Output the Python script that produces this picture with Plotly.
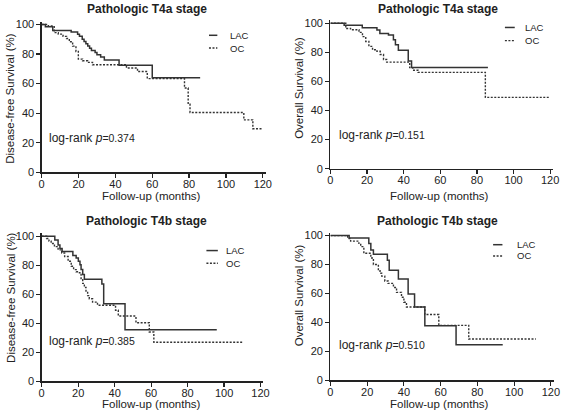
import plotly.graph_objects as go

W, H = 567, 419
FONT = "Liberation Sans, Arial, sans-serif"
INK = "#222222"

# ---------------- data ----------------
x_ticks = [0, 20, 40, 60, 80, 100, 120]
y_ticks = [0, 20, 40, 60, 80, 100]
series_names = ["LAC", "OC"]
panel_titles = ["Pathologic T4a stage", "Pathologic T4a stage",
                "Pathologic T4b stage", "Pathologic T4b stage"]
y_titles = ["Disease-free Survival (%)", "Overall Survival (%)",
            "Disease-free Survival (%)", "Overall Survival (%)"]
x_title = "Follow-up (months)"
p_values = ["0.374", "0.151", "0.385", "0.510"]

# T4a disease-free survival
t4a_dfs_lac_t = [0, 2, 6, 16, 19.5, 20.5, 22, 23, 24, 25, 26, 27, 29, 30, 32, 34, 42, 60, 86]
t4a_dfs_lac_s = [100, 98.5, 96, 95, 93.5, 92, 90, 88.5, 87, 85.5, 84, 82.5, 81, 79.5, 78, 76, 72.5, 64, 64]
t4a_dfs_oc_t = [0, 3.6, 6.8, 9, 11.6, 13.5, 15, 16.8, 18.6, 19.9, 22.2, 24.9, 27.6, 46, 52, 57.3,
                77.5, 79.5, 80.5, 109.7, 114.6, 120]
t4a_dfs_oc_s = [100, 99, 94.5, 93.5, 92, 90.5, 88.3, 85.4, 81.7, 76.6, 75.5, 74.4, 72.8, 70.6, 68.2, 63.4,
                57, 46, 40.5, 35.5, 29.5, 29.5]

# T4a overall survival
t4a_os_lac_t = [0, 7.5, 17.4, 25.4, 27, 31.7, 34.4, 35.5, 37.1, 42.5, 44.3, 86]
t4a_os_lac_s = [100, 98.7, 96.9, 95.3, 93, 91.9, 88.6, 85.2, 81.4, 74, 69.5, 69.5]
t4a_os_oc_t = [0, 8.4, 11, 15.6, 17.5, 19.3, 21, 23, 25.4, 27.2, 29, 30.7, 43.3, 45, 47.8, 84.6, 120]
t4a_os_oc_s = [100, 96.4, 95.5, 93.7, 90.8, 87.5, 84.1, 81.8, 80.7, 78.5, 75.1, 73.3, 69.5, 67.7, 66.2, 49, 49]

# T4b disease-free survival
t4b_dfs_lac_t = [0, 7.2, 9, 10, 11.2, 17.1, 18.9, 20.1, 21, 21.6, 22.5, 23.4, 33, 34, 45.7, 96]
t4b_dfs_lac_s = [100, 97.3, 93.9, 91.6, 89.4, 86.7, 84.9, 82.7, 80.4, 77, 73.7, 70.4, 67, 53.5, 35.5, 35.5]
t4b_dfs_oc_t = [0, 2.7, 4, 5.2, 7, 9, 11, 12.6, 14.5, 16.2, 17.5, 18.9, 20.7, 21.6, 22.5, 23.4, 24.3,
                25.2, 26.1, 27.9, 30.6, 40.5, 42, 51.7, 59, 61.5, 110.5]
t4b_dfs_oc_s = [100, 98.4, 96.6, 95, 92.8, 90.6, 88.4, 86, 82.7, 79.3, 77, 75.5, 74.8, 70, 67.5, 64.7, 61.3,
                59.1, 56.9, 54.6, 52.4, 49, 45, 40.4, 34, 27, 27]

# T4b overall survival
t4b_os_lac_t = [0, 10.2, 20.9, 22, 23.4, 31, 32, 37, 42.3, 45.8, 51.4, 68.4, 93.8]
t4b_os_lac_s = [100, 98.4, 94.6, 90.1, 87.2, 83, 76, 70, 59.7, 50.7, 37.7, 24.6, 24.6]
t4b_os_oc_t = [0, 9.4, 11, 15.5, 16.5, 18.2, 22, 23.4, 26.1, 27, 27.9, 29.6, 31.4, 34.3, 36, 38.7, 40,
               41.4, 51.4, 59, 75.3, 111.8]
t4b_os_oc_s = [100, 98, 96.2, 94.6, 92.4, 87.8, 84.5, 80, 76.6, 74, 72, 68.7, 67, 64.2, 60.8, 57.4, 54,
               50.7, 45.5, 38, 28.6, 28.6]

curves = [
    ((t4a_dfs_lac_t, t4a_dfs_lac_s), (t4a_dfs_oc_t, t4a_dfs_oc_s)),
    ((t4a_os_lac_t, t4a_os_lac_s), (t4a_os_oc_t, t4a_os_oc_s)),
    ((t4b_dfs_lac_t, t4b_dfs_lac_s), (t4b_dfs_oc_t, t4b_dfs_oc_s)),
    ((t4b_os_lac_t, t4b_os_lac_s), (t4b_os_oc_t, t4b_os_oc_s)),
]

# ---------------- layout geometry (pixels) ----------------
# (x of t=0, x of t=120, y of 0 %, y of 100 %)
panels_px = [
    (39.3, 264.0, 173.0, 22.0),
    (332.7, 556.0, 169.3, 20.7),
    (39.3, 261.7, 386.7, 238.3),
    (332.7, 556.7, 385.7, 237.7),
]
XMAX, YMAX = 121.5, 102.0


def px(x):
    return x / W


def py(y):
    return 1 - y / H


fig = go.Figure()
layout = dict(
    width=W, height=H, margin=dict(l=0, r=0, t=0, b=0),
    paper_bgcolor="white", plot_bgcolor="white", showlegend=False,
    font=dict(family=FONT, color=INK),
)
annotations = []
shapes = []

title_pos = [(146, 6.5), (442, 6.5), (146, 223), (442, 223)]
xtitle_cx = [150.5, 444, 150.5, 444]
xtitle_y = [197, 197, 410, 410]
ytitle_x = [7.5, 300.5, 7.5, 300.5]
ytitle_cy = [97.5, 87, 301, 299]
logrank_pos = [(44.3, 137.7), (339.3, 135), (44.3, 345), (339.3, 350)]
legend_pos = [  # line x0, x1, text x, y LAC, y OC
    (209.3, 217.8, 228.3, 33, 46),
    (510, 520, 528.3, 25, 38.5),
    (206.7, 218.3, 225, 253, 266),
    (498, 507.5, 520, 247, 258.5),
]

for i, ((xl, xr, yb, yt), (lac, oc)) in enumerate(zip(panels_px, curves)):
    sx = (xr - xl) / 120.0
    sy = (yb - yt) / 100.0
    xr_ext = xl + XMAX * sx
    yt_ext = yb - YMAX * sy
    k = "" if i == 0 else str(i + 1)
    layout["xaxis" + k] = dict(
        domain=[px(xl), px(xr_ext)], range=[0, XMAX], anchor="y" + k,
        tickvals=x_ticks, ticks="outside", ticklen=4, tickwidth=1.2, tickcolor=INK,
        ticklabelstandoff=-3,
        showline=True, linecolor=INK, linewidth=1.3, showgrid=False, zeroline=False,
        tickfont=dict(family=FONT, size=11, color=INK),
    )
    layout["yaxis" + k] = dict(
        domain=[py(yb), py(yt_ext)], range=[0, YMAX], anchor="x" + k,
        tickvals=y_ticks, ticks="outside", ticklen=4, tickwidth=1.2, tickcolor=INK,
        showline=True, linecolor=INK, linewidth=1.3, showgrid=False, zeroline=False,
        tickfont=dict(family=FONT, size=11, color=INK),
    )
    fig.add_trace(go.Scatter(
        x=oc[0], y=oc[1], mode="lines", line_shape="hv", name=series_names[1],
        line=dict(color="#333333", width=1.4, dash="2px,1.5px"),
        xaxis="x" + k, yaxis="y" + k,
    ))
    fig.add_trace(go.Scatter(
        x=lac[0], y=lac[1], mode="lines", line_shape="hv", name=series_names[0],
        line=dict(color="#333333", width=1.5),
        xaxis="x" + k, yaxis="y" + k,
    ))

    tx, ty = title_pos[i]
    annotations.append(dict(
        text="<b>%s</b>" % panel_titles[i], x=px(tx), y=py(ty),
        xref="paper", yref="paper", showarrow=False, xanchor="center", yanchor="middle",
        font=dict(family=FONT, size=12, color=INK),
    ))
    annotations.append(dict(
        text=x_title, x=px(xtitle_cx[i]), y=py(xtitle_y[i]),
        xref="paper", yref="paper", showarrow=False, xanchor="center", yanchor="middle",
        font=dict(family=FONT, size=11.5, color=INK),
    ))
    annotations.append(dict(
        text=y_titles[i], x=px(ytitle_x[i]), y=py(ytitle_cy[i]), textangle=-90,
        xref="paper", yref="paper", showarrow=False, xanchor="center", yanchor="middle",
        font=dict(family=FONT, size=11.5, color=INK),
    ))
    lx, ly = logrank_pos[i]
    annotations.append(dict(
        text="log-rank <i>p</i><span style='font-size:10.5px'>=%s</span>" % p_values[i],
        x=px(lx), y=py(ly), xref="paper", yref="paper", showarrow=False,
        xanchor="left", yanchor="middle",
        font=dict(family=FONT, size=12, color=INK),
    ))
    gx0, gx1, gtx, gy1, gy2 = legend_pos[i]
    shapes.append(dict(type="line", xref="paper", yref="paper",
                       x0=px(gx0), x1=px(gx1), y0=py(gy1), y1=py(gy1),
                       line=dict(color="#333333", width=1.5)))
    shapes.append(dict(type="line", xref="paper", yref="paper",
                       x0=px(gx0), x1=px(gx1), y0=py(gy2), y1=py(gy2),
                       line=dict(color="#333333", width=1.4, dash="2px,1.5px")))
    for name, gy in zip(series_names, (gy1, gy2)):
        annotations.append(dict(
            text=name, x=px(gtx), y=py(gy), xref="paper", yref="paper", showarrow=False,
            xanchor="left", yanchor="middle", font=dict(family=FONT, size=9.5, color=INK),
        ))

layout["annotations"] = annotations
layout["shapes"] = shapes
fig.update_layout(**layout)
fig.write_html(
    "out.html",
    config={"displayModeBar": False, "staticPlot": True},
    post_script="document.body.style.margin='0';document.body.style.padding='0';"
                "document.body.style.overflow='hidden';",
)
